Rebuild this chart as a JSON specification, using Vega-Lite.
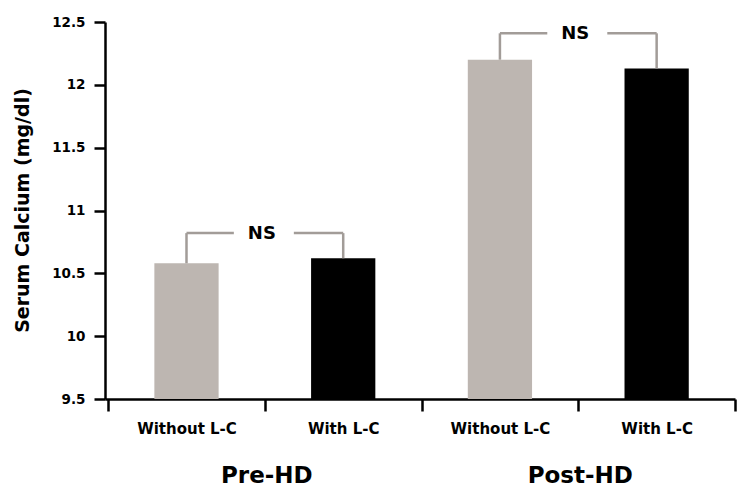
{
  "$schema": "https://vega.github.io/schema/vega-lite/v6.json",
  "autosize": {"type": "none"},
  "padding": {"left": 105, "top": 22, "right": 3, "bottom": 88},
  "width": 630,
  "height": 377,
  "background": "white",
  "config": {"view": {"stroke": null}, "font": "DejaVu Sans"},
  "resolve": {"axis": {"x": "independent", "y": "independent"}},
  "datasets": {
    "bars": [
      {"key": "Pre-HD|Without L-C", "group": "Pre-HD", "cond": "Without L-C", "value": 10.58},
      {"key": "Pre-HD|With L-C", "group": "Pre-HD", "cond": "With L-C", "value": 10.62},
      {"key": "Post-HD|Without L-C", "group": "Post-HD", "cond": "Without L-C", "value": 12.2},
      {"key": "Post-HD|With L-C", "group": "Post-HD", "cond": "With L-C", "value": 12.13}
    ],
    "brackets": [
      {"group": "Pre-HD", "left": "Pre-HD|Without L-C", "right": "Pre-HD|With L-C", "top": 10.82, "leftTop": 10.58, "rightTop": 10.62, "label": "NS"},
      {"group": "Post-HD", "left": "Post-HD|Without L-C", "right": "Post-HD|With L-C", "top": 12.41, "leftTop": 12.2, "rightTop": 12.13, "label": "NS"}
    ]
  },
  "layer": [
    {
      "data": {"name": "bars"},
      "mark": {"type": "bar", "width": {"band": 0.41}},
      "encoding": {
        "x": {
          "field": "key", "type": "nominal", "sort": null,
          "scale": {"domain": ["Pre-HD|Without L-C", "Pre-HD|With L-C", "Post-HD|Without L-C", "Post-HD|With L-C"], "paddingInner": 0, "paddingOuter": 0.01, "align": 1},
          "axis": {
            "title": null, "tickBand": "extent", "labelExpr": "split(datum.value,'|')[1]", "labelAngle": 0,
            "labelFont": "DejaVu Sans", "labelFontWeight": "bold", "labelFontSize": 15, "labelColor": "black",
            "labelPadding": 10, "tickSize": 12, "tickWidth": 2.5, "tickColor": "black",
            "domainColor": "black", "domainWidth": 2.5, "grid": false
          }
        },
        "y": {
          "field": "value", "type": "quantitative",
          "scale": {"domain": [9.5, 12.5], "nice": false, "zero": false},
          "axis": {
            "values": [9.5, 10, 10.5, 11, 11.5, 12, 12.5], "format": "~g", "grid": false,
            "title": "Serum Calcium (mg/dl)", "titleFont": "DejaVu Sans", "titleFontSize": 19, "titleFontWeight": "bold",
            "titleColor": "black", "titleX": -83, "titleY": 188, "titleAngle": -90, "titleBaseline": "middle", "titleAlign": "center",
            "labelFont": "DejaVu Sans", "labelFontSize": 13.5, "labelFontWeight": "bold", "labelColor": "black",
            "labelPadding": 9, "tickSize": 11, "tickWidth": 2.5, "tickColor": "black",
            "domainColor": "black", "domainWidth": 2.5
          }
        },
        "y2": {"datum": 9.5},
        "color": {
          "field": "cond", "type": "nominal",
          "scale": {"domain": ["Without L-C", "With L-C"], "range": ["#bdb6b1", "#000000"]},
          "legend": null
        }
      }
    },
    {
      "data": {"name": "brackets"},
      "mark": {"type": "rule", "color": "#a29c98", "strokeWidth": 2.5},
      "encoding": {
        "x": {"field": "left", "type": "nominal", "axis": null},
        "y": {"field": "top", "type": "quantitative", "axis": null},
        "y2": {"field": "leftTop"}
      }
    },
    {
      "data": {"name": "brackets"},
      "mark": {"type": "rule", "color": "#a29c98", "strokeWidth": 2.5},
      "encoding": {
        "x": {"field": "right", "type": "nominal", "axis": null},
        "y": {"field": "top", "type": "quantitative", "axis": null},
        "y2": {"field": "rightTop"}
      }
    },
    {
      "data": {"name": "brackets"},
      "mark": {"type": "rule", "color": "#a29c98", "strokeWidth": 2.5, "x2Offset": -31},
      "encoding": {
        "x": {"field": "left", "type": "nominal", "bandPosition": 0.5, "axis": null},
        "x2": {"field": "left", "bandPosition": 1},
        "y": {"field": "top", "type": "quantitative", "axis": null}
      }
    },
    {
      "data": {"name": "brackets"},
      "mark": {"type": "rule", "color": "#a29c98", "strokeWidth": 2.5, "xOffset": 29},
      "encoding": {
        "x": {"field": "right", "type": "nominal", "bandPosition": 0, "axis": null},
        "x2": {"field": "right", "bandPosition": 0.5},
        "y": {"field": "top", "type": "quantitative", "axis": null}
      }
    },
    {
      "data": {"name": "brackets"},
      "mark": {"type": "text", "font": "DejaVu Sans", "fontSize": 18, "fontWeight": "bold", "color": "black", "align": "center", "baseline": "middle", "dx": -3, "dy": 1},
      "encoding": {
        "x": {"field": "right", "type": "nominal", "bandPosition": 0, "axis": null},
        "y": {"field": "top", "type": "quantitative", "axis": null},
        "text": {"field": "label"}
      }
    },
    {
      "data": {"name": "brackets"},
      "mark": {"type": "text", "font": "DejaVu Sans", "fontSize": 23, "fontWeight": "bold", "color": "black", "align": "center", "baseline": "alphabetic", "dx": 2, "dy": 84},
      "encoding": {
        "x": {"field": "right", "type": "nominal", "bandPosition": 0, "axis": null},
        "y": {"datum": 9.5, "axis": null},
        "text": {"field": "group"}
      }
    }
  ]
}
